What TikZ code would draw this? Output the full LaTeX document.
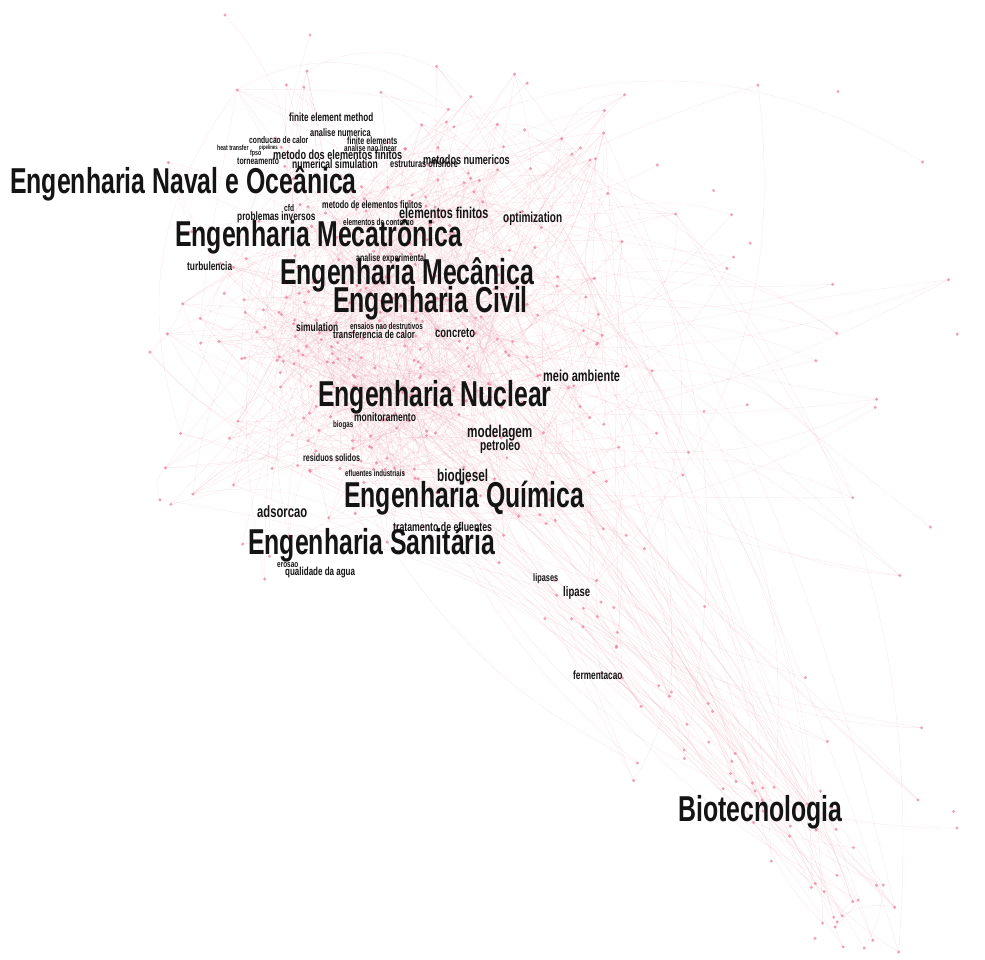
\documentclass[tikz,border=0pt]{standalone}
\usepackage{fontspec}
\newfontfamily\kwfont[FakeStretch=0.69]{Liberation Sans}
\newcommand\fs[1]{\fontsize{#1}{#1}\selectfont}
\definecolor{ink}{HTML}{141414}
\definecolor{link}{HTML}{E88AA0}
\definecolor{dotpink}{HTML}{EC7E9A}

\begin{document}
\begin{tikzpicture}[x=1pt,y=-1pt,
  field/.style={anchor=base west,inner sep=0pt,text=ink,font=\kwfont\bfseries\fs{36}},
  term/.style={anchor=west,inner sep=0pt,text=ink,font=\kwfont\bfseries\fs{#1}},
  edge/.style={link,line width=.35pt,opacity=.2},
  blob/.style={fill=dotpink,opacity=.7}]
  \fill[white] (0,0) rectangle (985,959);
  \useasboundingbox (0,0) rectangle (985,959);
  \clip (0,0) rectangle (985,959);
  \pgfmathsetseed{4242}
  % main cloud, tail towards the corner, loose outliers
  \foreach \i in {1,...,320}{
    \pgfmathsetmacro\px{410+140*(rand+rand)}
    \pgfmathsetmacro\py{320+140*(rand+rand)}
    \coordinate (m\i) at (\px,\py);}
  \foreach \i in {1,...,45}{
    \pgfmathsetmacro\pos{rnd}
    \pgfmathsetmacro\px{560+300*\pos+28*rand}
    \pgfmathsetmacro\py{600+300*\pos+28*rand}
    \coordinate (t\i) at (\px,\py);}
  \foreach \i in {46,...,62}{
    \pgfmathsetmacro\px{855+45*rand}
    \pgfmathsetmacro\py{915+40*rand}
    \coordinate (t\i) at (\px,\py);}
  \foreach \i in {1,...,35}{
    \pgfmathsetmacro\px{580+380*rnd}
    \pgfmathsetmacro\py{60+780*rnd}
    \coordinate (r\i) at (\px,\py);}
  \coordinate (r36) at (957,828);
  \coordinate (r37) at (918,800);
  \coordinate (r38) at (225,15);
  \coordinate (r39) at (310,35);

  \foreach \i in {1,...,650}{
    \pgfmathtruncatemacro\a{random(1,320)}
    \pgfmathtruncatemacro\b{random(1,320)}
    \pgfmathtruncatemacro\c{random(-40,40)}
    \draw[edge] (m\a) to[bend left=\c] (m\b);}
  \foreach \i in {1,...,75}{
    \pgfmathtruncatemacro\a{random(1,320)}
    \pgfmathtruncatemacro\b{random(1,62)}
    \pgfmathtruncatemacro\c{random(-5,25)}
    \draw[edge] (m\a) to[bend left=\c] (t\b);}
  \foreach \i in {1,...,30}{
    \pgfmathtruncatemacro\a{random(1,62)}
    \pgfmathtruncatemacro\b{random(1,62)}
    \pgfmathtruncatemacro\c{random(-20,20)}
    \draw[edge] (t\a) to[bend left=\c] (t\b);}
  \foreach \i in {1,...,60}{
    \pgfmathtruncatemacro\a{random(1,320)}
    \pgfmathtruncatemacro\b{random(1,39)}
    \pgfmathtruncatemacro\c{random(-45,45)}
    \draw[edge] (m\a) to[bend left=\c] (r\b);}

  \foreach \i in {1,...,320} \fill[blob] (m\i) circle (1.7);
  \foreach \i in {1,...,62} \fill[blob] (t\i) circle (1.7);
  \foreach \i in {1,...,39} \fill[blob] (r\i) circle (1.7);

  % fields
  \node[field] (naval) at (10,193) {Engenharia Naval e Oceânica};
  \node[field] (mecat) at (175,246) {Engenharia Mecatrônica};
  \node[field] (mecan) at (280,284) {Engenharia Mecânica};
  \node[field] (civil) at (333,312) {Engenharia Civil};
  \node[field] (nucl) at (318,406) {Engenharia Nuclear};
  \node[field] (quim) at (344,507) {Engenharia Química};
  \node[field] (sanit) at (248,554) {Engenharia Sanitária};
  \node[field] (biot) at (678,821) {Biotecnologia};

  % keywords
  \node[term=11.8] (fem) at (289,117) {finite element method};
  \node[term=10.8] (anum) at (310,133) {analise numerica};
  \node[term=9.7] (condc) at (249,140) {conducao de calor};
  \node[term=10.4] (fel) at (347,141) {finite elements};
  \node[term=7.5] (heat) at (217,148) {heat transfer};
  \node[term=6.2] (pipe) at (259,148) {pipelines};
  \node[term=9.1] (anl) at (344,148) {analise nao linear};
  \node[term=7.6] (fpso) at (250,154) {fpso};
  \node[term=13.2] (mdef) at (273,155) {metodo dos elementos finitos};
  \node[term=10] (torn) at (237,161) {torneamento};
  \node[term=12.4] (nsim) at (292,164) {numerical simulation};
  \node[term=10.7] (offs) at (390,164) {estruturas offshore};
  \node[term=13.2] (mnum) at (423,160) {metodos numericos};
  \node[term=10.7] (mdef2) at (322,205) {metodo de elementos finitos};
  \node[term=9.6] (cfd) at (284,208) {cfd};
  \node[term=12] (pinv) at (237,217) {problemas inversos};
  \node[term=15.7] (elfin) at (399,213) {elementos finitos};
  \node[term=9.3] (elcon) at (343,222) {elementos de contorno};
  \node[term=14.5] (optim) at (503,219) {optimization};
  \node[term=12.1] (turb) at (187,266) {turbulencia};
  \node[term=10.3] (aexp) at (356,259) {analise experimental};
  \node[term=12.2] (simul) at (296,327) {simulation};
  \node[term=9.2] (ensa) at (350,326) {ensaios nao destrutivos};
  \node[term=11.4] (trcal) at (333,334) {transferencia de calor};
  \node[term=13.7] (concr) at (435,333) {concreto};
  \node[term=15.9] (meio) at (543,376) {meio ambiente};
  \node[term=12.3] (monit) at (354,417) {monitoramento};
  \node[term=9] (biog) at (333,425) {biogas};
  \node[term=17] (model) at (467,433) {modelagem};
  \node[term=14.7] (petr) at (480,447) {petroleo};
  \node[term=10.4] (resid) at (303,458) {residuos solidos};
  \node[term=8.9] (eflu) at (345,473) {efluentes industriais};
  \node[term=17] (biod) at (437,477) {biodjesel};
  \node[term=16.3] (adso) at (257,512) {adsorcao};
  \node[term=12.7] (trat) at (393,527) {tratamento de efluentes};
  \node[term=9.3] (eros) at (277,565) {erosao};
  \node[term=11.6] (qual) at (285,573) {qualidade da agua};
  \node[term=10.7] (lips) at (533,579) {lipases};
  \node[term=13.8] (lip) at (563,593) {lipase};
  \node[term=12] (ferm) at (573,675) {fermentacao};
\end{tikzpicture}
\end{document}
